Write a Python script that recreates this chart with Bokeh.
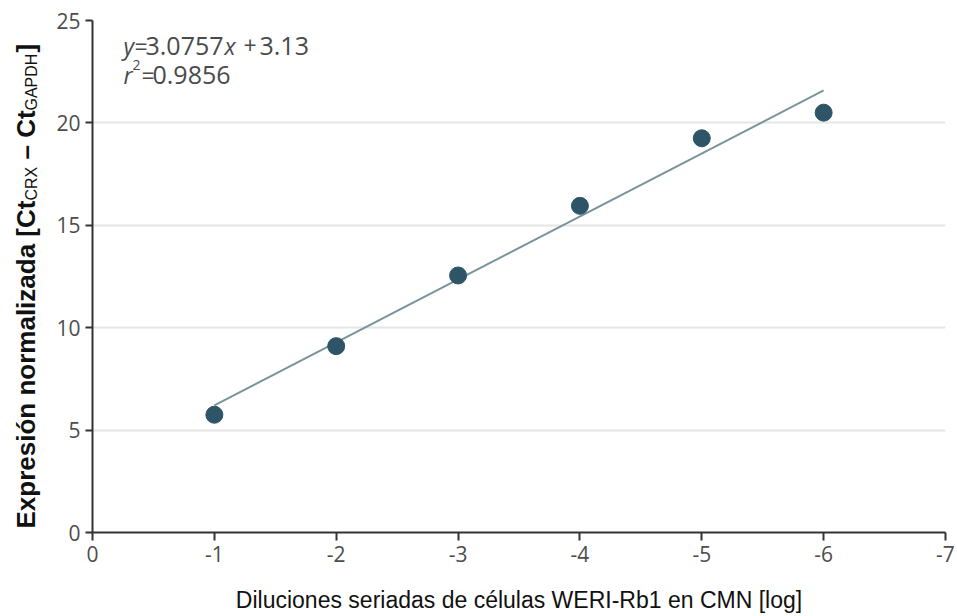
from bokeh.plotting import figure
from bokeh.models import Range1d, FixedTicker, Label
from bokeh.layouts import row
from bokeh.embed import file_html
from bokeh.resources import INLINE

# ---- data ----
dilutions = [-1, -2, -3, -4, -5, -6]
expression = [5.75, 9.1, 12.55, 15.95, 19.25, 20.5]
slope = 3.0757
intercept = 3.13
r2 = 0.9856
x_ticks = [0, -1, -2, -3, -4, -5, -6, -7]
y_ticks = [0, 5, 10, 15, 20, 25]
x_title = "Diluciones seriadas de células WERI-Rb1 en CMN [log]"

fit_x = [dilutions[0], dilutions[-1]]
fit_y = [slope * abs(v) + intercept for v in fit_x]

p = figure(width=912, height=616, output_backend="svg", toolbar_location=None,
           x_range=Range1d(0, -7), y_range=Range1d(0, 25),
           min_border_left=47, min_border_right=12, min_border_top=20, min_border_bottom=84)
p.outline_line_color = None

p.xgrid.grid_line_color = None
p.ygrid.grid_line_color = "#e6e6e6"
p.ygrid.grid_line_width = 2

p.xaxis.ticker = FixedTicker(ticks=x_ticks)
p.yaxis.ticker = FixedTicker(ticks=y_ticks)
p.xaxis.major_label_overrides = {t: str(t) for t in x_ticks}
for ax in (p.xaxis[0], p.yaxis[0]):
    ax.axis_line_color = "#333333"
    ax.axis_line_width = 2
    ax.major_tick_line_color = "#333333"
    ax.major_tick_line_width = 2
    ax.major_tick_in = 0
    ax.minor_tick_line_color = None
    ax.major_label_text_font = "Open Sans"
    ax.major_label_text_font_size = "21px"
    ax.major_label_text_color = "#4d4d4d"
    ax.major_label_standoff = 5
p.xaxis.major_tick_out = 8
p.yaxis.major_tick_out = 7

p.xaxis.axis_label = x_title
p.xaxis.axis_label_text_font = "Liberation Sans"
p.xaxis.axis_label_text_font_size = "23px"
p.xaxis.axis_label_text_font_style = "normal"
p.xaxis.axis_label_text_color = "#111111"
p.xaxis.axis_label_standoff = 22

p.line(fit_x, fit_y, line_color="#7a9599", line_width=2)
p.scatter(dilutions, expression, size=17, fill_color="#2e5567", line_color="#2e5567")


def lab(fig, text, x, y, size, font="Open Sans", style="normal", color="#4a4a4a", angle=0):
    fig.add_layout(Label(x=x, y=y, x_units="screen", y_units="screen", text=text,
                         text_font=font, text_font_size=size, text_font_style=style,
                         text_color=color, text_align="left", text_baseline="alphabetic",
                         angle=angle, angle_units="deg"))


# equation (frame-relative screen px)
lab(p, "y", 31, 487, "23px", style="italic")
lab(p, "=", 42, 487, "23px")
lab(p, f"{slope}", 53, 487, "25px")
lab(p, "x", 132, 487, "23px", style="italic")
lab(p, "+", 151, 487, "23px")
lab(p, f"{intercept}", 167, 487, "25px")
lab(p, "r", 31, 458, "23px", style="italic")
lab(p, "2", 40, 468, "14px")
lab(p, "=", 49, 458, "23px")
lab(p, f"{r2}", 60, 458, "25px")

# y-axis title in its own narrow panel (frame is aligned with the main frame)
ylab = figure(width=45, height=616, output_backend="svg", toolbar_location=None,
              x_range=Range1d(0, 1), y_range=Range1d(0, 1), min_border=0)
ylab.axis.visible = False
ylab.grid.visible = False
ylab.outline_line_color = None
bold = dict(font="Liberation Sans", style="bold", color="#111111", angle=90)
sub = dict(font="Liberation Sans", style="normal", color="#111111", angle=90)
lab(ylab, "Expresión normalizada [Ct", 25, 4, "26px", **bold)
lab(ylab, "CRX", 31, 332, "16px", **sub)
lab(ylab, "– Ct", 25, 373, "26px", **bold)
lab(ylab, "GAPDH", 31, 422, "16px", **sub)
lab(ylab, "]", 25, 480, "26px", **bold)

layout = row(ylab, p)
open("out.html", "w").write(file_html(layout, INLINE))
